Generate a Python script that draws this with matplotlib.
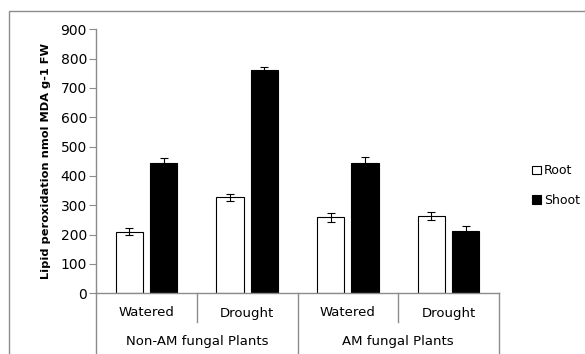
import numpy as np
import matplotlib.pyplot as plt
from matplotlib.patches import Rectangle
import matplotlib.transforms as mtransforms

plt.rcParams['font.family'] = ['DejaVu Sans']

groups = ['Non-AM fungal Plants', 'AM fungal Plants']
treatments = ['Watered', 'Drought', 'Watered', 'Drought']
root = [210, 327, 259, 264]
root_err = [12, 12, 15, 14]
shoot = [445, 760, 443, 212]
shoot_err = [15, 12, 22, 17]

W, H = 585, 354
fig = plt.figure(figsize=(W / 100, H / 100), dpi=100)
ax = fig.add_axes([96 / W, (H - 293.3) / H, (499 - 96) / W, (293.3 - 29.3) / H])

# outer chart border (cropped on right/bottom like the source)
fig.patches.append(Rectangle((9 / W, -0.1), 1.2, (H - 11) / H + 0.1, transform=fig.transFigure,
                             fill=False, edgecolor='#8c8c8c', linewidth=1))

x = np.arange(len(treatments))
bw = 0.27
off = 0.17
ax.bar(x - off, root, bw, color='white', edgecolor='black', linewidth=0.8, label='Root',
       yerr=root_err, error_kw=dict(ecolor='black', elinewidth=0.8, capsize=3, capthick=0.8))
ax.bar(x + off, shoot, bw, color='black', edgecolor='black', linewidth=0.8, label='Shoot',
       yerr=shoot_err, error_kw=dict(ecolor='black', elinewidth=0.8, capsize=3, capthick=0.8))

ax.set_xlim(-0.5, len(treatments) - 0.5)
ax.set_ylim(0, 900)
ax.set_yticks(range(0, 901, 100))
ax.tick_params(axis='y', labelsize=10, length=5, color='#8c8c8c', pad=1.5)
ax.set_xticks([])
for s in ['top', 'right']:
    ax.spines[s].set_visible(False)
for s in ['left', 'bottom']:
    ax.spines[s].set_color('#8c8c8c')
    ax.spines[s].set_linewidth(1)

ax.set_ylabel('Lipid peroxidation nmol MDA g-1 FW', fontsize=8.2, fontweight='bold', labelpad=7)

# category dividers below axis
trans = mtransforms.blended_transform_factory(ax.transData, fig.transFigure)
bot_short = (H - 322) / H
for i, xv in enumerate(np.arange(-0.5, len(treatments), 1.0)):
    ybot = bot_short if i % 2 == 1 else 0.0
    ax.plot([xv, xv], [(H - 293.3) / H, ybot], transform=trans, color='#8c8c8c',
            linewidth=1, clip_on=False)

for xi, t in zip(x, treatments):
    fig.text(xi, (H - 313) / H, t, transform=trans, ha='center', va='center', fontsize=9.5)
for gi, g in enumerate(groups):
    fig.text(2 * gi + 0.5, (H - 342) / H, g, transform=trans, ha='center', va='center', fontsize=9.5)

ax.legend(loc='center left', bbox_to_anchor=(521 / W, (H - 185.5) / H), bbox_transform=fig.transFigure,
          frameon=False, fontsize=9, handlelength=0.7, handleheight=0.7, handletextpad=0.25,
          labelspacing=1.3)

fig.savefig('out.png', dpi=100)
